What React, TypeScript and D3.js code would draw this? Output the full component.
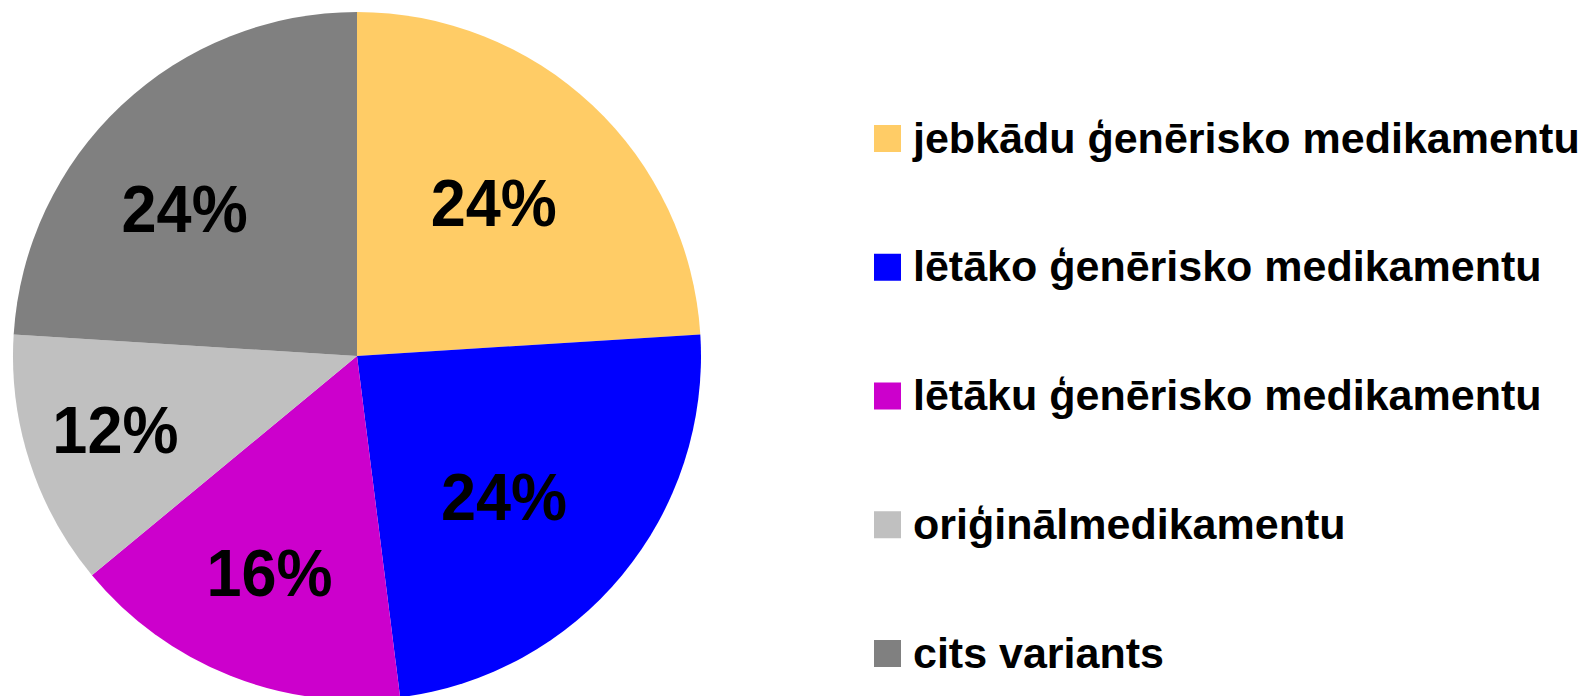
import React from "react";
import * as d3 from "d3";

const legendLabels = [
  "jebkādu ģenērisko medikamentu",
  "lētāko ģenērisko medikamentu",
  "lētāku ģenērisko medikamentu",
  "oriģinālmedikamentu",
  "cits variants",
];
const values = [24, 24, 16, 12, 24];
const colors = ["#FFCC66", "#0000FF", "#CC00CC", "#C0C0C0", "#808080"];
// label placement style: fraction of radius and angular shift (degrees) from slice mid-angle
const labelRadiusFactor = [0.598, 0.59, 0.676, 0.734, 0.66];
const labelAngleShift = [-1.5, 4.0, 0.5, 1.1, -6.2];

const W = 1589;
const H = 696;
const cx = 357;
const cy = 356;
const R = 344;

export default function App() {
  const pie = d3
    .pie<number>()
    .sort(null)
    .value((d) => d)
    .startAngle(0)
    .endAngle(2 * Math.PI);
  const arcs = pie(values);
  const arcGen = d3.arc<d3.PieArcDatum<number>>().innerRadius(0).outerRadius(R);
  const total = d3.sum(values);
  const fmt = (v: number) => `${Math.round((v / total) * 100)}%`;

  const legendY = d3
    .scalePoint<number>()
    .domain(d3.range(legendLabels.length))
    .range([138.5, 653.5]);

  return (
    <svg
      width={W}
      height={H}
      style={{ position: "absolute", left: 0, top: 0, display: "block", background: "#fff" }}
      fontFamily="'Liberation Sans', Arial, sans-serif"
    >
      <g transform={`translate(${cx},${cy})`}>
        {arcs.map((a, i) => (
          <path key={i} d={arcGen(a) || ""} fill={colors[i]} />
        ))}
        {arcs.map((a, i) => {
          const lr = R * labelRadiusFactor[i];
          const mid = (a.startAngle + a.endAngle) / 2 + (labelAngleShift[i] * Math.PI) / 180;
          const x = lr * Math.sin(mid);
          const y = -lr * Math.cos(mid);
          return (
            <text
              key={"l" + i}
              transform={`translate(${x},${y}) scale(1,1.06)`}
              dy="0.36em"
              textAnchor="middle"
              fontSize={63}
              fontWeight="bold"
              fill="#000"
            >
              {fmt(a.data)}
            </text>
          );
        })}
      </g>
      <g>
        {legendLabels.map((t, i) => {
          const y = legendY(i) as number;
          return (
            <g key={"lg" + i}>
              <rect x={874} y={y - 13.5} width={27} height={27} fill={colors[i]} />
              <text x={913} y={y + 14} fontSize={43} fontWeight="bold" fill="#000">
                {t}
              </text>
            </g>
          );
        })}
      </g>
    </svg>
  );
}
